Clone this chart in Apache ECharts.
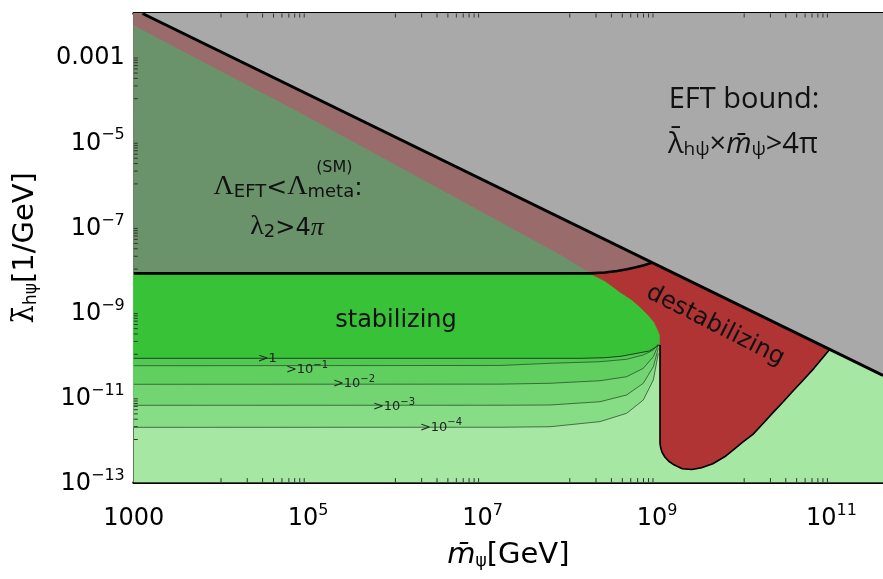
<!DOCTYPE html>
<html><head><meta charset="utf-8">
<script src="https://cdn.jsdelivr.net/npm/echarts@6/dist/echarts.min.js"></script>
<style>html,body{margin:0;padding:0;background:#fff}#c{width:883px;height:579px}</style>
</head><body><div id="c"></div>
<script>
// ---- data (all coordinates are log10 exponents: [log10(m/GeV), log10(lambda*GeV)]) ----
const xRange = [3, 11.592];
const yRange = [-13, -2];
const xMajorExp = [3, 5, 7, 9, 11];
const xTickText = ['1000', '10^5', '10^7', '10^9', '10^11'];
const yMajorExp = [-13, -11, -9, -7, -5, -3];
const yTickText = ['10^-13', '10^-11', '10^-9', '10^-7', '10^-5', '0.001'];

const plotBox = [[3, -13], [11.592, -13], [11.592, -2], [3, -2]];
// EFT bound  lambda*m = 4pi
const eftLine = [[3.1, -2.0], [11.592, -10.493]];
const eftRegion = [[3.1, -2.0], [11.592, -2.0], [11.592, -10.493]];
// Lambda_EFT < Lambda_meta  (lambda2 > 4pi) boundary
const metaLine = [[3, -8.1], [8.232, -8.1], [8.403, -8.079], [8.541, -8.045], [8.656, -8.005], [8.759, -7.955], [8.851, -7.908], [8.943, -7.852]];
const metaTop = [[3, -2.29], [4.9, -4.33], [7.89, -7.67], [8.232, -8.1]];
// stabilizing region right edge (jagged), top to bottom
const stabEdge = [[8.232, -8.1], [8.265, -8.138], [8.403, -8.279], [8.575, -8.538], [8.713, -8.725], [8.805, -8.89], [8.897, -9.077], [8.966, -9.242], [9.0, -9.383], [9.035, -9.547], [9.035, -9.78]];
// contour lines of tunnelling probability
const contourGt1    = [[3, -10.094], [8.127, -10.094], [8.40, -10.08], [8.587, -10.046], [8.912, -9.922], [9.013, -9.80], [9.035, -9.78]];
const contourGt1em1 = [[3, -10.268], [7.20, -10.262], [7.773, -10.211], [8.346, -10.174], [8.652, -10.117], [8.843, -10.016], [8.958, -9.899], [9.015, -9.758]];
const contourGt1em2 = [[3, -10.704], [7.20, -10.70], [7.773, -10.68], [8.346, -10.62], [8.652, -10.526], [8.843, -10.329], [8.958, -10.056], [9.015, -9.78]];
const contourGt1em3 = [[3, -11.197], [7.20, -11.195], [7.773, -11.19], [8.346, -11.113], [8.652, -10.955], [8.843, -10.68], [8.958, -10.291], [9.015, -9.859]];
const contourGt1em4 = [[3, -11.714], [7.20, -11.712], [7.773, -11.70], [8.346, -11.58], [8.652, -11.385], [8.843, -11.073], [8.958, -10.603], [9.015, -9.977]];
// destabilizing region outline: from the EFT line down the right side, round the bottom, up the left side
const destabOutline = [[10.982, -9.883], [10.80, -10.33], [10.678, -10.603], [10.56, -10.86], [10.448, -11.113], [10.33, -11.37], [10.219, -11.62], [10.10, -11.88], [9.99, -12.052], [9.90, -12.20], [9.78, -12.40], [9.64, -12.57], [9.51, -12.665], [9.40, -12.705], [9.29, -12.685], [9.20, -12.60], [9.135, -12.51], [9.09, -12.41], [9.058, -12.30], [9.042, -12.19], [9.035, -12.09], [9.035, -11.073], [9.035, -9.78]];

const contourLabels = ['>1', '>10^-1', '>10^-2', '>10^-3', '>10^-4'];

// ---- annotation anchors (data coords) ----
const contourLabelAt = [[4.53, -10.06], [4.986, -10.32], [5.525, -10.65], [5.984, -11.19], [6.523, -11.68]];

function concat() { return [].concat.apply([], arguments); }
function rev(a) { return a.slice().reverse(); }

const bandTop = [[9.035, -9.76], [9.035, -8.1], [3, -8.1]];
const regStab = concat(contourGt1, rev(stabEdge).slice(1), [[3, -8.1]]);
const band1 = concat(contourGt1em1, bandTop);
const band2 = concat(contourGt1em2, bandTop);
const band3 = concat(contourGt1em3, bandTop);
const band4 = concat(contourGt1em4, bandTop);
const regRed = concat(metaLine.slice(1), destabOutline, rev(stabEdge));
const regBrown = concat([[3, -2.0], [3.1, -2.0]], rev(metaLine));
const regGreyGreen = concat(metaTop, [[3, -8.1]]);

function poly(pts, fill, z) {
  return {
    type: 'custom', coordinateSystem: 'cartesian2d', silent: true, z: z || 1,
    data: [pts[0]],
    renderItem: function (params, api) {
      return { type: 'polygon', shape: { points: pts.map(function (p) { return api.coord(p); }) },
               style: { fill: fill, stroke: fill, lineWidth: 0.6 } };
    }
  };
}
function line(pts, color, width, z) {
  return { type: 'line', data: pts, showSymbol: false, symbol: 'none', silent: true, z: z || 3,
           lineStyle: { color: color, width: width }, animation: false };
}
function richTick(t) {
  const i = t.indexOf('^');
  if (i < 0) return '{n|' + t + '}';
  return '{n|' + t.slice(0, i) + '}{s|' + t.slice(i + 1).replace('-', '\u2212') + '}';
}
function richContour(t) {
  const i = t.indexOf('^');
  if (i < 0) return '{c|' + t + '}';
  return '{c|' + t.slice(0, i) + '}{cs|' + t.slice(i + 1).replace('-', '\u2212') + '}';
}

const SANS = 'DejaVu Sans';
const tickRich = {
  n: { fontFamily: SANS, fontSize: 24, color: '#000', lineHeight: 28, verticalAlign: 'bottom' },
  s: { fontFamily: SANS, fontSize: 16, color: '#000', lineHeight: 16, verticalAlign: 'top' }
};
const textRich = {
  t: { fontFamily: SANS, fontSize: 24, fill: '#111', lineHeight: 30, verticalAlign: 'bottom' },
  t2: { fontFamily: SANS, fontSize: 25, fill: '#111', lineHeight: 30, verticalAlign: 'bottom' },
  ob: { fontFamily: 'Open Sans', fontSize: 29, fill: '#111', lineHeight: 32, verticalAlign: 'bottom' },
  oi: { fontFamily: 'Open Sans', fontStyle: 'italic', fontSize: 29, fill: '#111', lineHeight: 32, verticalAlign: 'bottom' },
  osb: { fontFamily: 'Open Sans', fontSize: 19, fill: '#111', lineHeight: 17, verticalAlign: 'bottom' },
  L: { fontFamily: 'Liberation Serif', fontSize: 28, fill: '#111', lineHeight: 30, verticalAlign: 'bottom' },
  Li: { fontFamily: 'Liberation Serif', fontStyle: 'italic', fontSize: 26, fill: '#111', lineHeight: 30, verticalAlign: 'bottom' },
  sb: { fontFamily: SANS, fontSize: 18, fill: '#111', lineHeight: 16, verticalAlign: 'bottom' },
  sp: { fontFamily: SANS, fontSize: 16, fill: '#111', lineHeight: 18 },
  c: { fontFamily: SANS, fontSize: 13, fill: '#222', lineHeight: 16, verticalAlign: 'bottom' },
  cs: { fontFamily: SANS, fontSize: 10, fill: '#222', lineHeight: 10, verticalAlign: 'top' }
};

const texts = [
  { s: '{ob|EFT bound:}', at: [9.998, -3.98] },
  { s: '{ob|\u03bb\u0304}{osb|h\u03c8}{ob|\u00d7}{oi|m\u0304}{osb|\u03c8}{ob|>4\u03c0}', at: [9.986, -5.04] },
  { s: '{L|\u039b}{sb|EFT}{t2|<}{L|\u039b}{sb|meta}{t2|:}', at: [4.769, -6.05] },
  { s: '{sp|(SM)}', at: [5.30, -5.62] },
  { s: '{L|\u03bb}{sb|2}{t|>4}{Li|\u03c0}', at: [4.757, -6.99] },
  { s: '{t|stabilizing}', at: [6.007, -9.148] },
  { s: '{t|destabilizing}', at: [9.686, -9.263], rot: -27 }
];
contourLabels.forEach(function (l, i) { texts.push({ s: richContour(l), at: contourLabelAt[i] }); });

// minor ticks: j * 10^(k-1) for each major exponent k
const xMinor = [], yMinor = [];
xMajorExp.forEach(function (k) { for (let j = 1; j <= 9; j++) { const v = k - 1 + Math.log10(j); if (v > xRange[0] && v < xRange[1]) xMinor.push(v); } });
yMajorExp.forEach(function (k) { for (let j = 1; j <= 9; j++) { const v = k - 1 + Math.log10(j); if (v > yRange[0] && v < yRange[1]) yMinor.push(v); } });

const chart = echarts.init(document.getElementById('c'), null, { renderer: 'canvas' });
const axisLineStyle = { color: '#000', width: 3 };
const majorTick = { show: true, inside: true, length: 7, lineStyle: { color: '#000', width: 3 } };
const option = {
  animation: false,
  grid: { left: 133.8, top: 13.5, bottom: 96.9, right: 0, containLabel: false },
  xAxis: [{
    type: 'value', min: xRange[0], max: xRange[1], interval: 2, position: 'bottom',
    axisLine: { show: true, onZero: false, lineStyle: axisLineStyle },
    axisTick: majorTick,
    axisLabel: { margin: 21, showMaxLabel: false, formatter: function (v) { const k = xMajorExp.indexOf(v); return k >= 0 ? richTick(xTickText[k]) : ''; }, rich: tickRich },
    splitLine: { show: false },
    name: '{m|m\u0304}{sb|\u03c8}{n|[GeV]}', nameLocation: 'middle', nameGap: 56,
    nameTextStyle: { rich: {
      m: { fontFamily: SANS, fontStyle: 'italic', fontSize: 29, color: '#000', lineHeight: 32, verticalAlign: 'bottom' },
      sb: { fontFamily: SANS, fontSize: 17, color: '#000', lineHeight: 16, verticalAlign: 'bottom' },
      n: { fontFamily: SANS, fontSize: 29, color: '#000', lineHeight: 32, verticalAlign: 'bottom' } } }
  }, {
    type: 'value', min: xRange[0], max: xRange[1], interval: 2, position: 'top',
    axisLine: { show: true, onZero: false, lineStyle: axisLineStyle },
    axisTick: majorTick,
    axisLabel: { show: false }, splitLine: { show: false }
  }],
  yAxis: [{
    type: 'value', min: yRange[0], max: yRange[1], interval: 2, position: 'left',
    axisLine: { show: true, onZero: false, lineStyle: axisLineStyle },
    axisTick: majorTick,
    axisLabel: { margin: 9, formatter: function (v) { const k = yMajorExp.indexOf(v); return k >= 0 ? richTick(yTickText[k]) : ''; }, rich: tickRich },
    splitLine: { show: false },
    name: '{l|\u03bb\u0304}{sb|h\u03c8}{n|[1/GeV]}', nameLocation: 'middle', nameGap: 94, nameRotate: 90,
    nameTextStyle: { rich: {
      l: { fontFamily: 'DejaVu Serif', fontSize: 29, color: '#000', lineHeight: 32, verticalAlign: 'bottom' },
      sb: { fontFamily: SANS, fontSize: 17, color: '#000', lineHeight: 16, verticalAlign: 'bottom' },
      n: { fontFamily: SANS, fontSize: 29, color: '#000', lineHeight: 32, verticalAlign: 'bottom' } } }
  }],
  series: [
    poly(plotBox, '#a7e7a4', 1),
    poly(band4, '#87dc86', 1),
    poly(band3, '#72d571', 1),
    poly(band2, '#60cf60', 1),
    poly(band1, '#4fc94f', 1),
    poly(regStab, '#38c238', 1),
    line(contourGt1em4, 'rgba(40,70,40,0.8)', 0.9, 2),
    line(contourGt1em3, 'rgba(40,70,40,0.8)', 0.9, 2),
    line(contourGt1em2, 'rgba(40,70,40,0.8)', 0.9, 2),
    line(contourGt1em1, 'rgba(40,70,40,0.8)', 0.9, 2),
    line(contourGt1, 'rgba(30,50,30,0.9)', 1, 2),
    poly(regRed, '#b13434', 2),
    poly(regBrown, '#9a6b6b', 2),
    poly(regGreyGreen, '#6b936b', 2),
    poly(eftRegion, '#a9a9a9', 2),
    line(destabOutline, '#000', 1.6, 3),
    line(metaLine, '#000', 2.6, 3),
    line(eftLine, '#000', 3, 3),
    {
      type: 'custom', coordinateSystem: 'cartesian2d', silent: true, z: 4,
      data: xMinor.map(function (v) { return [v, yRange[0]]; }),
      renderItem: function (params, api) {
        const p = api.coord([api.value(0), yRange[0]]); const cs = params.coordSys;
        return { type: 'group', children: [
          { type: 'line', shape: { x1: p[0], y1: cs.y + cs.height, x2: p[0], y2: cs.y + cs.height - 4 }, style: { stroke: '#333', lineWidth: 1 } },
          { type: 'line', shape: { x1: p[0], y1: cs.y, x2: p[0], y2: cs.y + 4 }, style: { stroke: '#333', lineWidth: 1 } }] };
      }
    },
    {
      type: 'custom', coordinateSystem: 'cartesian2d', silent: true, z: 4,
      data: yMinor.map(function (v) { return [xRange[0], v]; }),
      renderItem: function (params, api) {
        const p = api.coord([xRange[0], api.value(1)]); const cs = params.coordSys;
        return { type: 'line', shape: { x1: cs.x, y1: p[1], x2: cs.x + 4, y2: p[1] }, style: { stroke: '#333', lineWidth: 1 } };
      }
    },
    {
      type: 'custom', coordinateSystem: 'cartesian2d', silent: true, z: 5,
      data: texts.map(function (t) { return t.at; }),
      renderItem: function (params, api) {
        const t = texts[params.dataIndex];
        const p = api.coord(t.at);
        return { type: 'text', x: p[0], y: p[1], rotation: (t.rot || 0) * Math.PI / 180,
                 style: { text: t.s, rich: textRich, align: 'center', verticalAlign: 'middle', fill: '#111' } };
      }
    }
  ]
};
chart.setOption(option);
</script></body></html>
